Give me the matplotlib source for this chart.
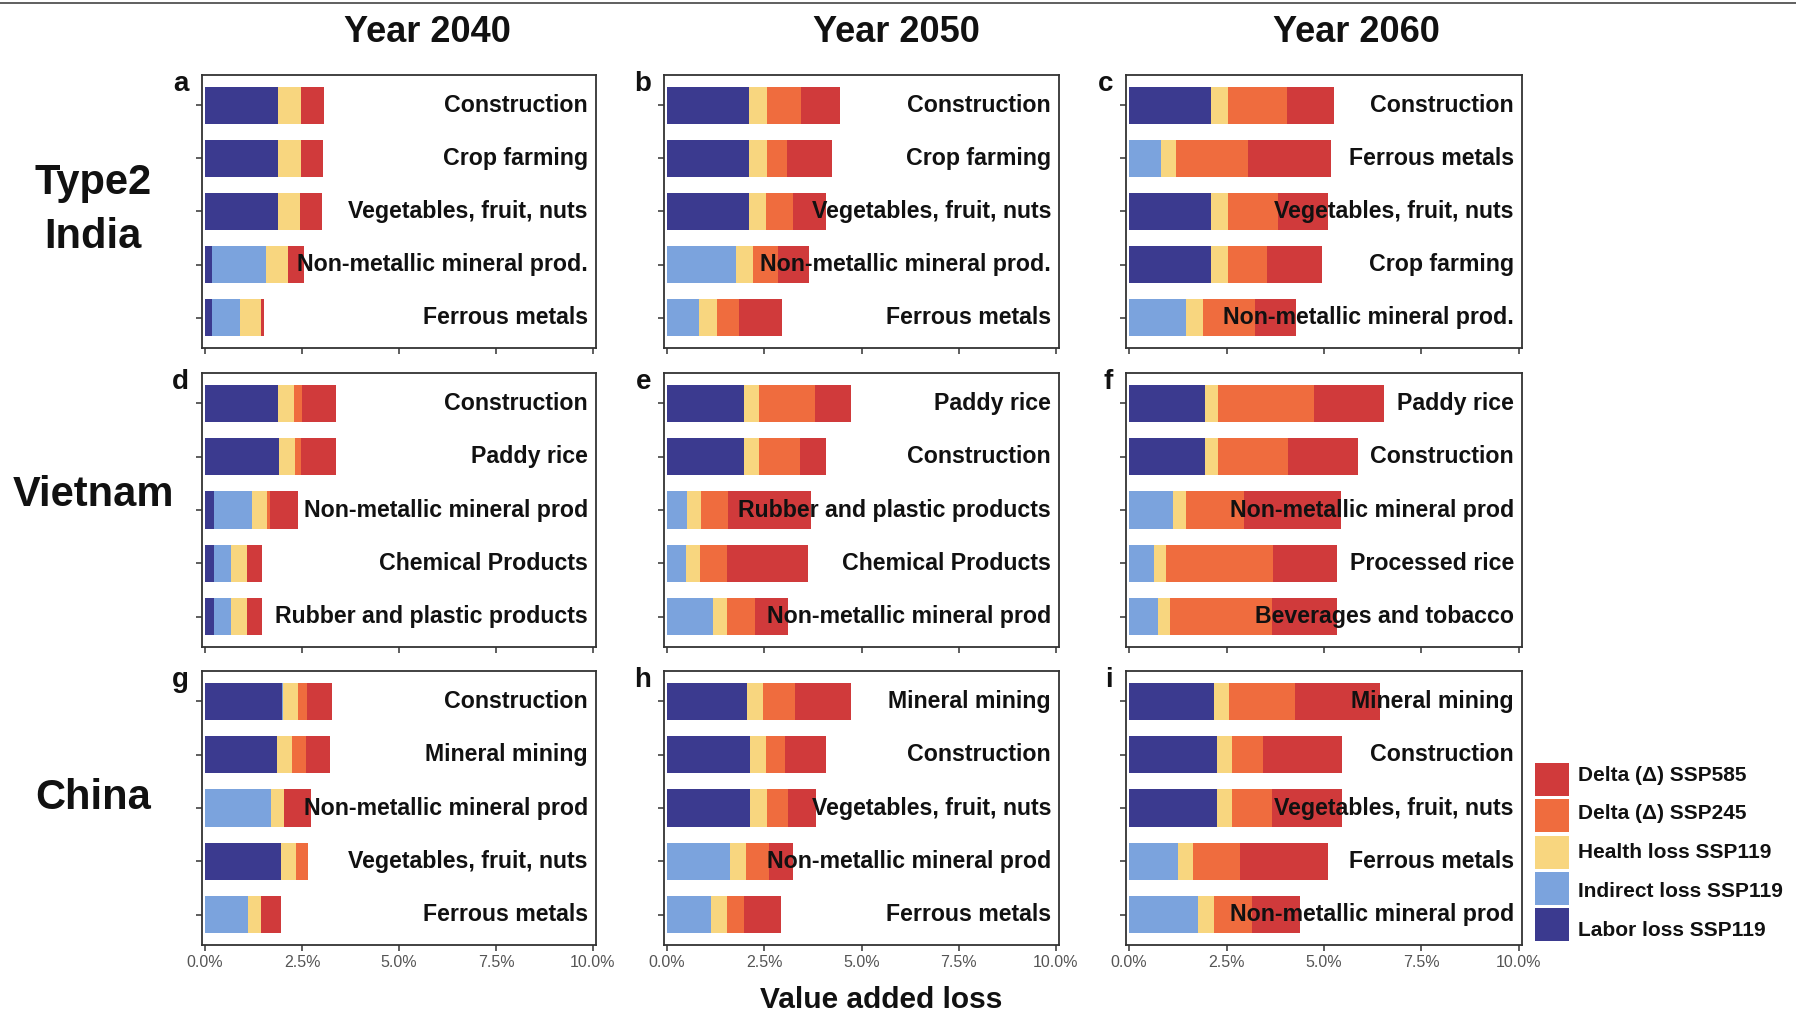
import matplotlib
matplotlib.use("Agg")
import matplotlib.pyplot as plt
import matplotlib.transforms as mtransforms
from matplotlib.patches import Rectangle
from matplotlib.lines import Line2D

plt.rcParams['font.family'] = ['Liberation Sans', 'DejaVu Sans']

# ---------------- data (value added loss, %) ----------------
series_names = ["Labor loss SSP119", "Indirect loss SSP119", "Health loss SSP119",
                "Delta (\u0394) SSP245", "Delta (\u0394) SSP585"]
series_colors = ["#3B3A8F", "#7BA3DD", "#F8D67F", "#EF6C3E", "#D03A3B"]

col_titles = ["Year 2040", "Year 2050", "Year 2060"]
row_titles = ["Type2\nIndia", "Vietnam", "China"]
panel_letters = ["a", "b", "c", "d", "e", "f", "g", "h", "i"]
x_ticks = [0.0, 2.5, 5.0, 7.5, 10.0]
x_tick_labels = ["0.0%", "2.5%", "5.0%", "7.5%", "10.0%"]

# a: India 2040
a_sectors = ["Construction", "Crop farming", "Vegetables, fruit, nuts", "Non-metallic mineral prod.", "Ferrous metals"]
a_labor = [1.88, 1.875, 1.875, 0.18, 0.18]
a_indirect = [0, 0, 0, 1.38, 0.71]
a_health = [0.60, 0.59, 0.57, 0.565, 0.56]
a_d245 = [0, 0, 0, 0, 0]
a_d585 = [0.59, 0.58, 0.58, 0.42, 0.06]

# b: India 2050
b_sectors = ["Construction", "Crop farming", "Vegetables, fruit, nuts", "Non-metallic mineral prod.", "Ferrous metals"]
b_labor = [2.11, 2.11, 2.105, 0, 0]
b_indirect = [0, 0, 0, 1.78, 0.825]
b_health = [0.45, 0.45, 0.44, 0.44, 0.45]
b_d245 = [0.885, 0.53, 0.70, 0.64, 0.575]
b_d585 = [1.005, 1.14, 0.85, 0.78, 1.10]

# c: India 2060
c_sectors = ["Construction", "Ferrous metals", "Vegetables, fruit, nuts", "Crop farming", "Non-metallic mineral prod."]
c_labor = [2.105, 0, 2.105, 2.105, 0]
c_indirect = [0, 0.81, 0, 0, 1.47]
c_health = [0.44, 0.40, 0.44, 0.43, 0.42]
c_d245 = [1.51, 1.84, 1.28, 0.99, 1.35]
c_d585 = [1.21, 2.14, 1.29, 1.42, 1.05]

# d: Vietnam 2040
d_sectors = ["Construction", "Paddy rice", "Non-metallic mineral prod", "Chemical Products", "Rubber and plastic products"]
d_labor = [1.88, 1.90, 0.23, 0.23, 0.23]
d_indirect = [0, 0, 0.97, 0.44, 0.44]
d_health = [0.41, 0.41, 0.39, 0.41, 0.41]
d_d245 = [0.20, 0.17, 0.09, 0, 0]
d_d585 = [0.89, 0.90, 0.72, 0.38, 0.38]

# e: Vietnam 2050
e_sectors = ["Paddy rice", "Construction", "Rubber and plastic products", "Chemical Products", "Non-metallic mineral prod"]
e_labor = [1.98, 1.98, 0, 0, 0]
e_indirect = [0, 0, 0.51, 0.48, 1.18]
e_health = [0.39, 0.39, 0.36, 0.36, 0.37]
e_d245 = [1.44, 1.05, 0.70, 0.70, 0.71]
e_d585 = [0.93, 0.67, 2.14, 2.08, 0.84]

# f: Vietnam 2060
f_sectors = ["Paddy rice", "Construction", "Non-metallic mineral prod", "Processed rice", "Beverages and tobacco"]
f_labor = [1.95, 1.95, 0, 0, 0]
f_indirect = [0, 0, 1.12, 0.63, 0.73]
f_health = [0.34, 0.34, 0.33, 0.31, 0.31]
f_d245 = [2.46, 1.79, 1.50, 2.74, 2.63]
f_d585 = [1.79, 1.80, 2.48, 1.66, 1.67]

# g: China 2040
g_sectors = ["Construction", "Mineral mining", "Non-metallic mineral prod", "Vegetables, fruit, nuts", "Ferrous metals"]
g_labor = [1.98, 1.86, 0, 1.97, 0]
g_indirect = [0.03, 0, 1.70, 0, 1.11]
g_health = [0.385, 0.38, 0.33, 0.37, 0.34]
g_d245 = [0.23, 0.36, 0, 0.31, 0]
g_d585 = [0.64, 0.625, 0.69, 0, 0.52]

# h: China 2050
h_sectors = ["Mineral mining", "Construction", "Vegetables, fruit, nuts", "Non-metallic mineral prod", "Ferrous metals"]
h_labor = [2.06, 2.14, 2.14, 0, 0]
h_indirect = [0, 0, 0, 1.61, 1.13]
h_health = [0.41, 0.40, 0.42, 0.41, 0.41]
h_d245 = [0.82, 0.48, 0.55, 0.60, 0.45]
h_d585 = [1.43, 1.07, 0.73, 0.61, 0.95]

# i: China 2060
i_sectors = ["Mineral mining", "Construction", "Vegetables, fruit, nuts", "Ferrous metals", "Non-metallic mineral prod"]
i_labor = [2.17, 2.25, 2.245, 0, 0]
i_indirect = [0, 0, 0, 1.25, 1.78]
i_health = [0.39, 0.39, 0.40, 0.39, 0.39]
i_d245 = [1.69, 0.79, 1.02, 1.20, 0.985]
i_d585 = [2.18, 2.02, 1.79, 2.25, 1.225]

panels = [
    (a_sectors, [a_labor, a_indirect, a_health, a_d245, a_d585]),
    (b_sectors, [b_labor, b_indirect, b_health, b_d245, b_d585]),
    (c_sectors, [c_labor, c_indirect, c_health, c_d245, c_d585]),
    (d_sectors, [d_labor, d_indirect, d_health, d_d245, d_d585]),
    (e_sectors, [e_labor, e_indirect, e_health, e_d245, e_d585]),
    (f_sectors, [f_labor, f_indirect, f_health, f_d245, f_d585]),
    (g_sectors, [g_labor, g_indirect, g_health, g_d245, g_d585]),
    (h_sectors, [h_labor, h_indirect, h_health, h_d245, h_d585]),
    (i_sectors, [i_labor, i_indirect, i_health, i_d245, i_d585]),
]

# ---------------- layout ----------------
W, H = 1796, 1021
fig = plt.figure(figsize=(W / 100, H / 100), dpi=100)


def fx(px):
    return px / W


def fy(py):
    return 1 - py / H


col_px = [(202, 596), (664, 1059), (1126, 1522)]
row_px = [(75, 348), (373, 647), (671, 945)]
spine_col = "#333333"

for k, (sectors, series) in enumerate(panels):
    r, c = divmod(k, 3)
    l, rr = col_px[c]
    t, b = row_px[r]
    ax = fig.add_axes([fx(l), fy(b), fx(rr) - fx(l), (b - t) / H])
    y = list(range(len(sectors)))
    left = [0.0] * len(sectors)
    for vals, col, name in zip(series, series_colors, series_names):
        ax.barh(y, vals, left=left, height=0.7, color=col, linewidth=0, label=name)
        left = [a + v for a, v in zip(left, vals)]
    ax.set_xlim(-0.08, 10.08)
    ax.set_ylim(4.57, -0.57)
    ax.set_yticks(y)
    ax.set_yticklabels([])
    ax.set_xticks(x_ticks)
    if r == 2:
        ax.set_xticklabels(x_tick_labels, fontsize=11.5, color="#555555")
    else:
        ax.set_xticklabels([])
    ax.tick_params(axis="both", length=4.5, width=1.1, color=spine_col, pad=2.5)
    for sp in ax.spines.values():
        sp.set_color(spine_col)
        sp.set_linewidth(1.3)
    trans = mtransforms.blended_transform_factory(ax.transAxes, ax.transData)
    for yi, name in zip(y, sectors):
        ax.text(1 - 8 / (rr - l), yi, name, transform=trans, ha="right", va="center",
                fontsize=16.7, fontweight="bold", color="#111111", zorder=5)
    fig.text(fx(l - 13), fy(t + 9), panel_letters[k], ha="right", va="center",
             fontsize=20, fontweight="bold", color="#111111")

# column titles
for c, (title, xc) in enumerate(zip(col_titles, [427, 896, 1356])):
    fig.text(fx(xc), fy(33), title, ha="center", va="center", fontsize=26,
             fontweight="bold", color="#111111")

# row titles
for title, yc in zip(row_titles, [210, 495, 798]):
    fig.text(fx(93), fy(yc), title, ha="center", va="center", fontsize=30,
             fontweight="bold", color="#111111", linespacing=1.42, multialignment="center")

# x label
fig.text(fx(881), fy(1000), "Value added loss", ha="center", va="center", fontsize=21.5,
         fontweight="bold", color="#111111")

# legend (top to bottom: reversed stacking order)
for j, (name, col) in enumerate(zip(series_names[::-1], series_colors[::-1])):
    top = 763 + 36.25 * j
    fig.add_artist(Rectangle((fx(1535), fy(top + 33)), 34 / W, 33 / H,
                             transform=fig.transFigure, facecolor=col, edgecolor="none"))
    fig.text(fx(1578), fy(775 + 38.75 * j), name, ha="left", va="center", fontsize=15,
             fontweight="bold", color="#111111")

# top border line
fig.add_artist(Line2D([0, 1], [fy(3.5), fy(3.5)], transform=fig.transFigure,
                      color="#444444", linewidth=1.2))

fig.savefig("out.png", dpi=100)
